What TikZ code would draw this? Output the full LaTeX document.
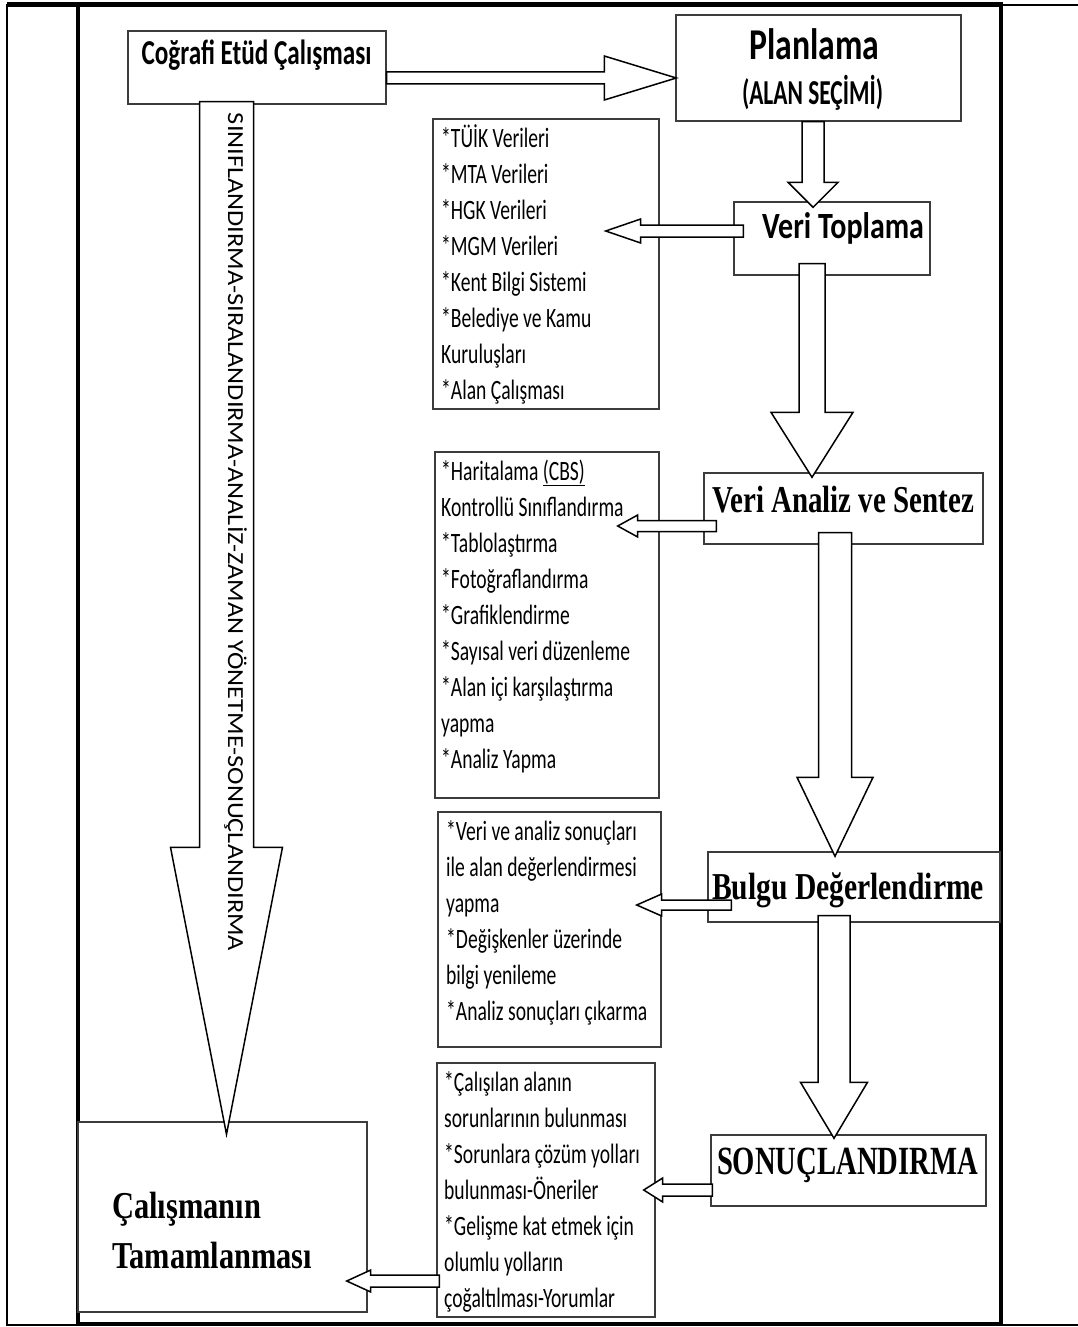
\documentclass[tikz,border=0pt]{standalone}
\usepackage{fontspec}
\setmainfont{Carlito}
\newfontfamily\tnrfam{Liberation Serif}
\usepackage{graphicx}
\usetikzlibrary{calc}
\definecolor{boxgray}{HTML}{3C3C3C}
\newcommand{\sfb}[1]{\fontsize{#1}{#1}\selectfont\bfseries}
\newcommand{\tnrb}[1]{\tnrfam\fontsize{#1}{#1}\selectfont\bfseries}
\newcommand{\datfont}{\fontsize{28}{36}\selectfont}
\newcommand{\datbox}[1]{{\datfont\scalebox{0.70}[1]{\begin{tabular}[t]{@{}l@{}}#1\end{tabular}}}}
\newcommand{\st}{{*}}
% block arrows: #1 start, #2 tip, #3 shaft half width, #4 head half width, #5 head length
\newcommand{\blkdown}[5]{%
  \draw[blk] let \p1=#1, \p2=#2 in
    (\x2-#3pt,\y1) -- (\x2-#3pt,\y2+#5pt) -- (\x2-#4pt,\y2+#5pt) -- (\p2) --
    (\x2+#4pt,\y2+#5pt) -- (\x2+#3pt,\y2+#5pt) -- (\x2+#3pt,\y1) -- cycle;}
\newcommand{\blkleft}[5]{%
  \draw[blk] let \p1=#1, \p2=#2 in
    (\x1,\y2+#3pt) -- (\x2+#5pt,\y2+#3pt) -- (\x2+#5pt,\y2+#4pt) -- (\p2) --
    (\x2+#5pt,\y2-#4pt) -- (\x2+#5pt,\y2-#3pt) -- (\x1,\y2-#3pt) -- cycle;}
\newcommand{\blkright}[5]{%
  \draw[blk] let \p1=#1, \p2=#2 in
    (\x1,\y2+#3pt) -- (\x2-#5pt,\y2+#3pt) -- (\x2-#5pt,\y2+#4pt) -- (\p2) --
    (\x2-#5pt,\y2-#4pt) -- (\x2-#5pt,\y2-#3pt) -- (\x1,\y2-#3pt) -- cycle;}
\tikzset{
  box/.style={draw=boxgray, line width=1.4pt, fill=white, inner sep=0pt, rectangle},
  blk/.style={draw=black, line width=1.5pt, fill=white, line join=miter},
  lbl/.style={inner sep=0pt, anchor=base},
}
\begin{document}
\begin{tikzpicture}[x=1pt,y=-1pt]
\useasboundingbox (0,0) rectangle (1078,1327);
% page / table frame
\draw[line width=2pt] (1078,5) -- (7,5) -- (7,1325) -- (1078,1325);
\draw[line width=5pt] (7,4.5) -- (78,4.5);
\draw[line width=4.5pt] (78,4.5) rectangle (1001,1324);

% boxes
\node[box, minimum width=258pt, minimum height=73pt] (cog) at (257,67.5) {};
\node[box, minimum width=285pt, minimum height=106pt] (pl) at (818.5,68) {};
\node[box, minimum width=196pt, minimum height=73pt] (vt) at (832,238.5) {};
\node[box, minimum width=226pt, minimum height=290pt] (d1) at (546,264) {};
\node[box, minimum width=279pt, minimum height=71pt] (va) at (843.5,508.5) {};
\node[box, minimum width=224pt, minimum height=346pt] (d2) at (547,625) {};
\node[box, minimum width=292pt, minimum height=70pt] (bd) at (854,887) {};
\node[box, minimum width=223pt, minimum height=235pt] (d3) at (549.5,929.5) {};
\node[box, minimum width=275pt, minimum height=71pt] (so) at (848.5,1170.5) {};
\node[box, minimum width=218pt, minimum height=254pt] (d4) at (546,1190) {};
\node[box, minimum width=289pt, minimum height=190pt] (ct) at (222.5,1217) {};

% block arrows
\blkright{(cog.east)}{($(pl.west)+(1,10)$)}{6}{22}{72}
\blkdown{(pl.south)}{($(vt.north)+(-19,6)$)}{11}{25}{25}
\blkleft{($(vt.west)+(10,0)$)}{($(d1.east)+(-54,-33)$)}{6}{12}{35}
\blkdown{($(vt.south)+(0,-12)$)}{($(va.north)+(-31.5,5)$)}{13}{41}{65}
\blkleft{($(va.west)+(13,0)$)}{($(d2.east)+(-42,-99)$)}{5.5}{11}{20}
\blkdown{($(va.south)+(0,-12)$)}{($(bd.north)+(-19,5)$)}{16.5}{38}{79}
\blkleft{($(bd.west)+(24,0)$)}{($(d3.east)+(-25,-24.5)$)}{5}{11}{25}
\blkdown{($(bd.south)+(0,-7)$)}{($(so.north)+(-14.5,4)$)}{16}{33.5}{56}
\blkleft{($(so.west)+(2,0)$)}{($(d4.east)+(-12,0)$)}{6}{12}{19}
\blkleft{($(d4.west)+(3,0)$)}{($(ct.east)+(-21,64)$)}{6}{11}{24}
\blkdown{($(cog.south)+(0,-3)$)}{($(ct.north)+(4,13)$)}{27}{56}{287}

% texts
\node[lbl] (tcog) at (256.5,65) {\sfb{35}\resizebox{230pt}{\height}{Coğrafi Etüd Çalışması}};
\node[lbl] (tpl1) at (814.5,60) {\sfb{44}\resizebox{130pt}{\height}{Planlama}};
\node[lbl] (tpl2) at (812.5,105) {\sfb{35}\resizebox{141pt}{\height}{(ALAN SEÇİMİ)}};
\node[lbl] (tvt) at (843,238) {\sfb{37}\resizebox{162pt}{\height}{Veri Toplama}};
\node[lbl] (tva) at (843,512) {\tnrb{38}\resizebox{262pt}{\height}{Veri Analiz ve Sentez}};
\node[lbl] (tbd) at (848,899) {\tnrb{38}\resizebox{272pt}{\height}{Bulgu Değerlendirme}};
\node[lbl] (tso) at (847.5,1174) {\tnrb{40}\resizebox{261pt}{\height}{SONUÇLANDIRMA}};
\node[lbl, anchor=base west] (tct1) at (112,1218) {\tnrb{38}\resizebox{149pt}{\height}{Çalışmanın}};
\node[lbl, anchor=base west] (tct2) at (112,1268) {\tnrb{38}\resizebox{200pt}{\height}{Tamamlanması}};
\node[lbl, rotate=-90] (tside) at (228,532) {\fontsize{23}{23}\selectfont\resizebox{838pt}{\height}{SINIFLANDIRMA-SIRALANDIRMA-ANALİZ-ZAMAN YÖNETME-SONUÇLANDIRMA}};

\node[lbl, anchor=base west] (td1) at (441,147) {\datbox{\st TÜİK Verileri\\ \st MTA Verileri\\ \st HGK Verileri\\ \st MGM Verileri\\ \st Kent Bilgi Sistemi\\ \st Belediye ve Kamu\\ Kuruluşları\\ \st Alan Çalışması}};
\node[lbl, anchor=base west] (td2) at (441,480) {\datbox{\st Haritalama \underline{(CBS)}\\ Kontrollü Sınıflandırma\\ \st Tablolaştırma\\ \st Fotoğraflandırma\\ \st Grafiklendirme\\ \st Sayısal veri düzenleme\\ \st Alan içi karşılaştırma\\ yapma\\ \st Analiz Yapma}};
\node[lbl, anchor=base west] (td3) at (446,840) {\datbox{\st Veri ve analiz sonuçları\\ ile alan değerlendirmesi\\ yapma\\ \st Değişkenler üzerinde\\ bilgi yenileme\\ \st Analiz sonuçları çıkarma}};
\node[lbl, anchor=base west] (td4) at (444,1091) {\datbox{\st Çalışılan alanın\\ sorunlarının bulunması\\ \st Sorunlara çözüm yolları\\ bulunması-Öneriler\\ \st Gelişme kat etmek için\\ olumlu yolların\\ çoğaltılması-Yorumlar}};
\end{tikzpicture}
\end{document}
